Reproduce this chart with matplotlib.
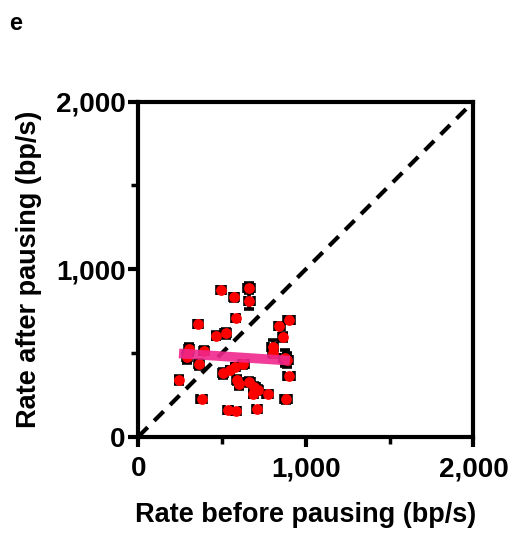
import matplotlib
matplotlib.use("Agg")
import matplotlib.pyplot as plt
import numpy as np

rate_before = [493, 573, 663, 663, 581, 358, 901, 842, 464, 521, 862, 304, 392, 802, 802,
               289, 362, 627, 579, 547, 507, 890, 243, 587, 601, 663, 693, 713, 686, 772,
               901, 378, 882, 537, 583, 710, 875]
rate_after = [876, 832, 890, 812, 708, 673, 697, 661, 603, 617, 597, 521, 513, 537, 498,
              474, 432, 432, 416, 398, 378, 458, 338, 338, 312, 328, 298, 279, 255, 255,
              362, 223, 223, 159, 153, 163, 470]
err_x = [25, 25, 30, 25, 20, 25, 30, 25, 20, 25, 20, 25, 25, 25, 20,
         25, 25, 25, 20, 20, 25, 30, 20, 20, 20, 25, 25, 25, 20, 25,
         30, 25, 30, 25, 25, 25, 30]
err_y = [15, 20, 30, 50, 15, 15, 20, 20, 20, 25, 25, 35, 20, 40, 25,
         35, 25, 20, 20, 20, 25, 40, 25, 25, 30, 25, 25, 25, 20, 15,
         15, 15, 20, 15, 15, 15, 50]
fit_x = [243, 905]
fit_y = [497, 454]

FAM = ['Liberation Sans', 'DejaVu Sans']
plt.rcParams['font.family'] = FAM

fig = plt.figure(figsize=(5.14, 5.33), dpi=100)
ax = fig.add_axes([0.269, 0.1807, 0.652, 0.6285])

ax.plot([0, 2000], [0, 2000], color='black', lw=3, ls=(0, (3.2, 2.2)), zorder=1)
ax.errorbar(rate_before, rate_after, xerr=err_x, yerr=err_y, fmt='none',
            ecolor='black', elinewidth=2.6, capsize=3.5, capthick=2.6, zorder=2)
ax.scatter(rate_before, rate_after, s=45, color='#ff0000', edgecolor='#ff0000',
           zorder=3)
ax.plot(fit_x, fit_y, color='#f0288c', lw=7, solid_capstyle='butt', zorder=4, alpha=0.9)

ax.set_xlim(0, 2000)
ax.set_ylim(0, 2000)
ax.set_xticks([0, 1000, 2000])
ax.set_yticks([0, 1000, 2000])
ax.set_xticks([500, 1500], minor=True)
ax.set_yticks([500, 1500], minor=True)
ax.set_xticklabels(['0', '1,000', '2,000'], fontsize=20, fontweight='bold', family=FAM)
ax.set_yticklabels(['0', '1,000', '2,000'], fontsize=20, fontweight='bold', family=FAM)
ax.tick_params(which='major', length=7, width=3, direction='out')
ax.tick_params(axis='x', which='major', pad=7)
ax.tick_params(axis='y', which='major', pad=2)
ax.tick_params(which='minor', length=5, width=2.5, direction='out')
ax.tick_params(top=False, right=False)
for s in ax.spines.values():
    s.set_linewidth(3)

ax.set_xlabel('Rate before pausing (bp/s)', fontsize=19.5, fontweight='bold', labelpad=14,
              family=FAM)
ax.set_ylabel('Rate after pausing (bp/s)', fontsize=19.5, fontweight='bold', labelpad=10,
              family=FAM)

fig.text(0.018, 0.955, 'e', fontsize=17, fontweight='bold', ha='left', va='center',
         family=FAM)

fig.savefig('out.png', dpi=100)
